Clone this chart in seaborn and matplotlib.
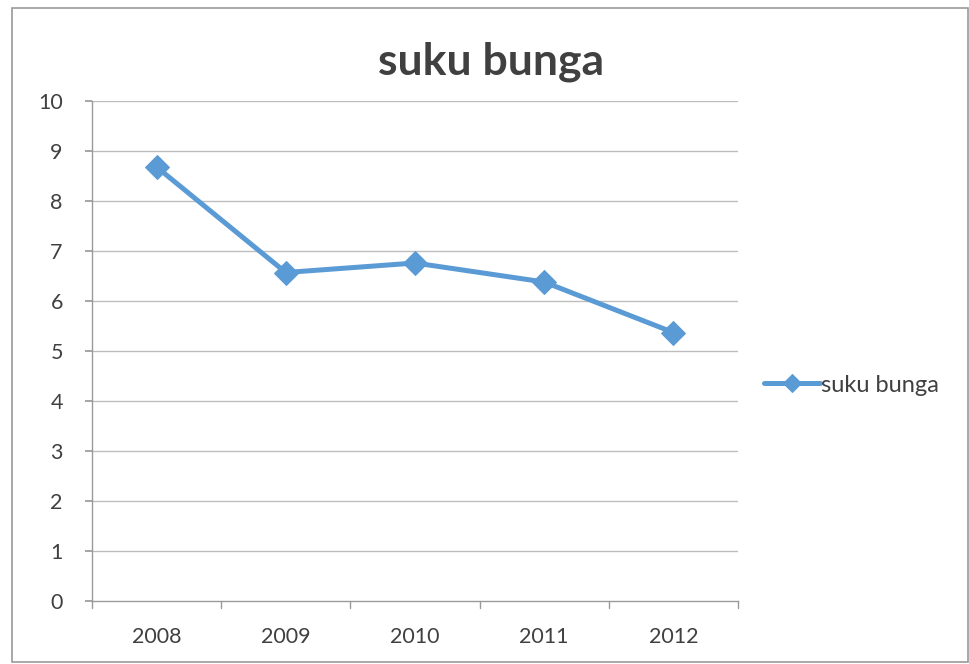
import matplotlib
matplotlib.use("Agg")
import matplotlib.pyplot as plt
from matplotlib.patches import Rectangle
import seaborn as sns
import pandas as pd

years = ["2008", "2009", "2010", "2011", "2012"]
rates = [8.68, 6.57, 6.76, 6.38, 5.37]
series_name = "suku bunga"
y_ticks = list(range(0, 11))

sns.set_theme(style="white")
plt.rcParams["font.family"] = ["Lato", "DejaVu Sans"]

df = pd.DataFrame({"tahun": years, "nilai": rates})

fig = plt.figure(figsize=(9.7, 6.64), dpi=100)
ax = fig.add_axes([92 / 970, 63 / 664, 646 / 970, 500 / 664])

blue = "#5B9BD5"
text_c = "#404040"
sns.lineplot(data=df, x="tahun", y="nilai", ax=ax, color=blue, linewidth=3.6,
             marker="D", markersize=12.5, markeredgecolor=blue,
             markerfacecolor=blue, label=series_name, sort=False)

ax.set_ylim(0, 10)
ax.set_xlim(-0.5, len(years) - 0.5)
ax.set_yticks(y_ticks)
ax.set_yticklabels([str(t) for t in y_ticks])
ax.set_xlabel("")
ax.set_ylabel("")

grid_c = "#BDBDBD"
for t in y_ticks[1:]:
    ax.axhline(t, color=grid_c, linewidth=1, zorder=0)

for side in ["top", "right"]:
    ax.spines[side].set_visible(False)
for side in ["left", "bottom"]:
    ax.spines[side].set_color("#9A9A9A")
    ax.spines[side].set_linewidth(1)

# category labels centred, with boundary ticks between them
ax.set_xticks(range(len(years)))
ax.set_xticklabels(years)
ax.tick_params(axis="x", length=0, pad=19, labelsize=15.5, labelcolor=text_c)
ax.tick_params(axis="y", left=True, length=5, color="#9A9A9A", pad=16,
               labelsize=15.5, labelcolor=text_c)
for b in [i - 0.5 for i in range(len(years) + 1)]:
    ax.plot([b, b], [0, -0.13], color="#9A9A9A", linewidth=1, clip_on=False)

fig.text(491 / 970, 1 - 62 / 664, "suku bunga", ha="center", va="center",
         fontsize=32, fontweight="bold", color=text_c)

leg = ax.legend(loc="center left", bbox_to_anchor=(1.025, 0.432), frameon=False,
                fontsize=17, handlelength=2.4, handletextpad=0.05,
                borderaxespad=0)
for txt in leg.get_texts():
    txt.set_color(text_c)
for line in leg.get_lines():
    line.set_markersize(9)

fig.add_artist(Rectangle((12 / 970, 2 / 664), 956 / 970, 654 / 664,
                         transform=fig.transFigure, fill=False,
                         edgecolor="#9A9A9A", linewidth=1.2))

fig.savefig("out.png", dpi=100, facecolor="white")
